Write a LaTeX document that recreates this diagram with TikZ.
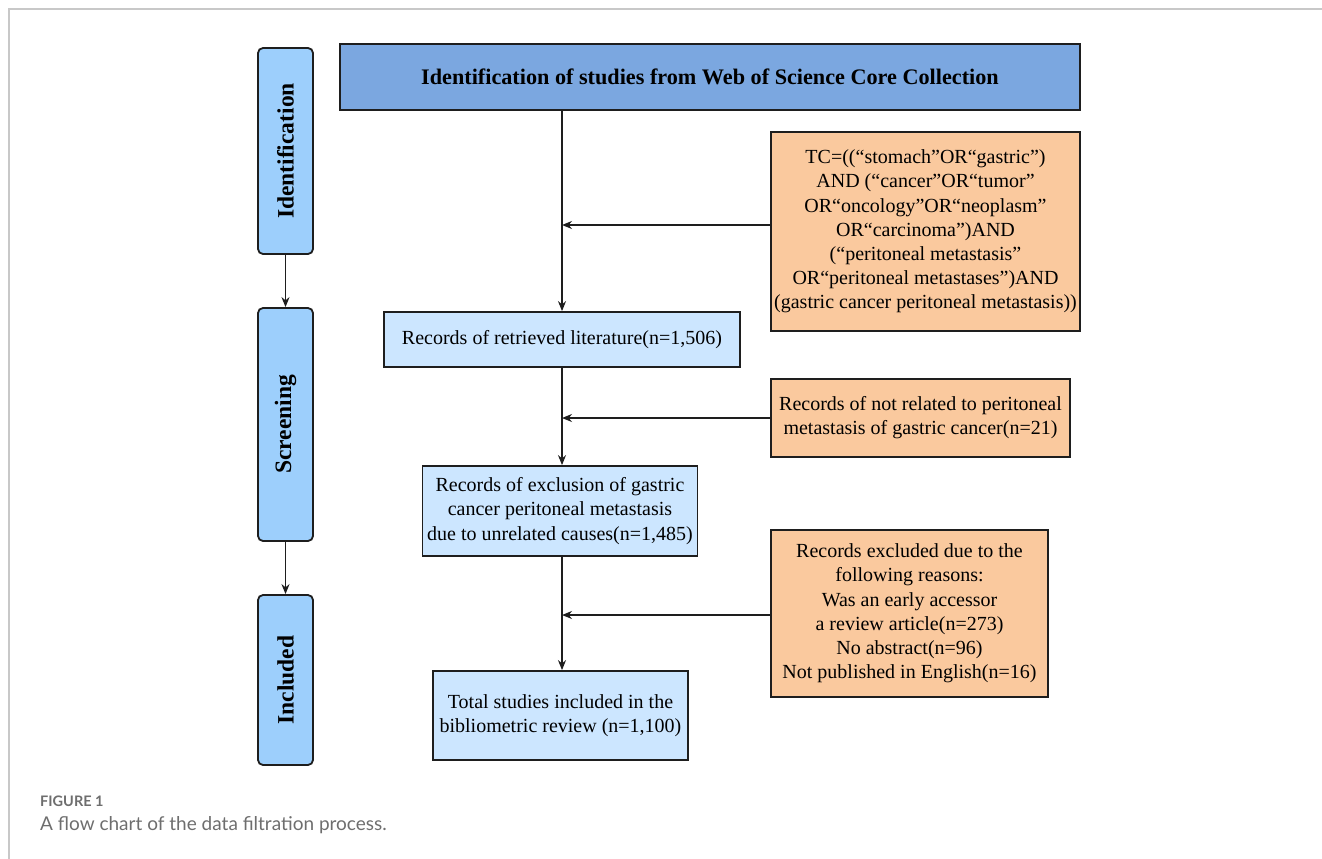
\documentclass[tikz,border=0pt]{standalone}
\usepackage{fontspec}
\setmainfont{Liberation Serif}
\newfontfamily\capfont{Lato}
\usetikzlibrary{arrows.meta}

\definecolor{phasefill}{HTML}{9DCFFC}
\definecolor{headfill}{HTML}{7BA7E0}
\definecolor{stepfill}{HTML}{CCE6FF}
\definecolor{notefill}{HTML}{FAC99E}
\definecolor{edgeline}{HTML}{1E1E1E}
\definecolor{framegray}{HTML}{C8C8C8}
\definecolor{capgray}{HTML}{6E6E6E}

\tikzset{
  phase/.style={draw=edgeline, line width=1.8pt, fill=phasefill, rounded corners=5pt,
    minimum width=55pt, inner sep=0pt, font=\fontsize{23.5}{28}\selectfont\bfseries},
  headbox/.style={draw=edgeline, line width=1.8pt, fill=headfill, inner sep=0pt,
    font=\fontsize{22.2}{26}\selectfont\bfseries},
  stepbox/.style={draw=edgeline, line width=1.8pt, fill=stepfill, inner sep=0pt,
    align=center, font=\fontsize{20}{24.2}\selectfont},
  notebox/.style={draw=edgeline, line width=1.8pt, fill=notefill, inner sep=0pt,
    align=center, font=\fontsize{20}{24.2}\selectfont},
  arr/.style={draw=edgeline, line width=1.3pt, -{Stealth[length=10pt,width=8pt]}},
}

\begin{document}
\begin{tikzpicture}[x=1pt, y=-1pt]
\useasboundingbox (0,0) rectangle (1322,859);

% page frame
\draw[framegray, line width=1.2pt] (1322,9) -- (9,9) -- (9,859);

% phase labels on the left
\node[phase, minimum height=206pt] (ident) at (285.5,151) {\rotatebox{90}{Identification}};
\node[phase, minimum height=233pt] (scr) at (285.5,424.5) {\rotatebox{90}{Screening}};
\node[phase, minimum height=170pt] (incl) at (285.5,680) {\rotatebox{90}{Included}};

% main column
\node[headbox, minimum width=740pt, minimum height=66pt] (head) at (710,77)
  {Identification of studies from Web of Science Core Collection};
\node[stepbox, minimum width=356pt, minimum height=55pt] (rec) at (562,339.5)
  {Records of retrieved literature(n=1,506)};
\node[stepbox, minimum width=275pt, minimum height=90pt] (excl) at (560,511)
  {Records of exclusion of gastric\\cancer peritoneal metastasis\\due to unrelated causes(n=1,485)};
\node[stepbox, minimum width=255pt, minimum height=89pt] (total) at (560.5,715.5)
  {Total studies included in the\\bibliometric review (n=1,100)};

% side notes
\node[notebox, minimum width=309pt, minimum height=199pt] (query) at (925.5,231.5)
  {TC=((“stomach”OR“gastric”)\\AND (“cancer”OR“tumor”\\OR“oncology”OR“neoplasm”\\OR“carcinoma”)AND\\(“peritoneal metastasis”\\OR“peritoneal metastases”)AND\\(gastric cancer peritoneal metastasis))};
\node[notebox, minimum width=299pt, minimum height=78pt] (unrel) at (920.5,418)
  {Records of not related to peritoneal\\metastasis of gastric cancer(n=21)};
\node[notebox, minimum width=277pt, minimum height=167pt] (reasons) at (909.5,613.5)
  {Records excluded due to the\\following reasons:\\Was an early accessor\\a review article(n=273)\\No abstract(n=96)\\Not published in English(n=16)};

% joints on the main line
\coordinate (j1) at (562,225);
\coordinate (j2) at (562,418);
\coordinate (j3) at (562,615);

% main flow
\draw[arr] (head.south -| j1) -- (rec.north -| j1);
\draw[arr] (rec.south -| j2) -- (excl.north -| j2);
\draw[arr] (excl.south -| j3) -- (total.north -| j3);

% exclusions joining the flow
\draw[arr] (j1 -| query.west) -- (j1);
\draw[arr] (j2 -| unrel.west) -- (j2);
\draw[arr] (j3 -| reasons.west) -- (j3);

% phase sequence
\draw[arr] (ident.south) -- (scr.north);
\draw[arr] (scr.south) -- (incl.north);

% caption
\node[anchor=base west, inner sep=0pt, text=capgray, font=\capfont\bfseries\fontsize{14.5}{17}\selectfont] (fig) at (40,806) {FIGURE 1};
\node[anchor=base west, inner sep=0pt, text=capgray, font=\capfont\fontsize{19}{22}\selectfont] (cap) at (40,830) {A flow chart of the data filtration process.};
\end{tikzpicture}
\end{document}
